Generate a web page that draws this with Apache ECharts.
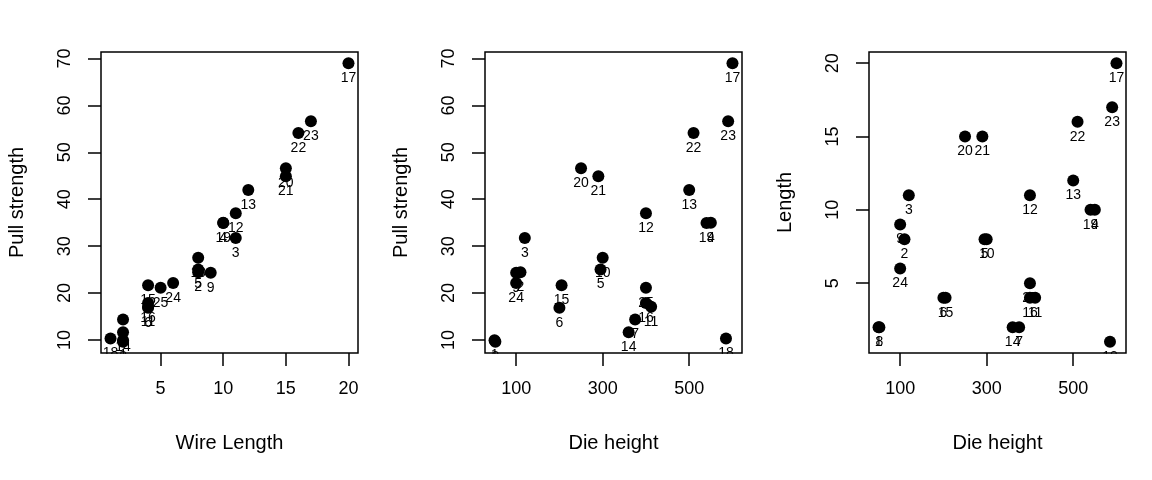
<!DOCTYPE html>
<html><head><meta charset="utf-8">
<script src="https://cdn.jsdelivr.net/npm/echarts@6/dist/echarts.min.js"></script>
<style>html,body{margin:0;padding:0;background:#fff}#c{width:1152px;height:480px}</style>
</head><body><div id="c"></div>
<script>
const obs = ['1','2','3','4','5','6','7','8','9','10','11','12','13','14','15','16','17','18','19','20','21','22','23','24','25'];
const pullStrength = [9.95,24.45,31.75,35.00,25.02,16.86,14.38,9.60,24.35,27.50,17.08,37.00,41.95,11.66,21.65,17.89,69.00,10.30,34.93,46.59,44.88,54.12,56.63,22.13,21.15];
const wireLength = [2,8,11,10,8,4,2,2,9,8,4,11,12,2,4,4,20,1,10,15,15,16,17,6,5];
const dieHeight = [50,110,120,550,295,200,375,52,100,300,412,400,500,360,205,400,600,585,540,250,290,510,590,100,400];
const xTicks1 = [5,10,15,20];
const xTicks2 = [100,300,500];
const yTicks12 = [10,20,30,40,50,60,70];
const yTicks3 = [5,10,15,20];

function ext(arr){const lo=Math.min(...arr),hi=Math.max(...arr),d=(hi-lo)*0.04;return [lo-d,hi+d];}
const FONT='Liberation Sans, Arial, sans-serif';
const panels = [
  {x:wireLength,y:pullStrength,xt:xTicks1,yt:yTicks12,xn:'Wire Length',yn:'Pull strength'},
  {x:dieHeight,y:pullStrength,xt:xTicks2,yt:yTicks12,xn:'Die height',yn:'Pull strength'},
  {x:dieHeight,y:wireLength,xt:xTicks2,yt:yTicks3,xn:'Die height',yn:'Length'}
];
const GL=101,GT=52,GW=257,GH=301,STEP=384;
const grid=[],xAxis=[],yAxis=[],series=[],graphic=[];
panels.forEach((p,i)=>{
  const left=GL+STEP*i;
  grid.push({left:left,top:GT,width:GW,height:GH,show:true,borderColor:'#000',borderWidth:1.5,backgroundColor:'transparent',z:10});
  const xr=ext(p.x), yr=ext(p.y);
  const tick={show:true,inside:false,length:13,lineStyle:{color:'#000',width:1.5}};
  const nts={color:'#000',fontSize:20,fontFamily:FONT};
  xAxis.push({type:'value',gridIndex:i,min:xr[0],max:xr[1],z:10,
    axisLine:{show:false},splitLine:{show:false},
    axisTick:Object.assign({customValues:p.xt},tick),
    axisLabel:{customValues:p.xt,color:'#000',fontSize:18,fontFamily:FONT,margin:27},
    name:p.xn,nameLocation:'middle',nameGap:80,nameTextStyle:nts});
  yAxis.push({type:'value',gridIndex:i,min:yr[0],max:yr[1],z:10,
    axisLine:{show:false},splitLine:{show:false},
    axisTick:Object.assign({customValues:p.yt},tick),
    axisLabel:{customValues:p.yt,color:'#000',fontSize:18,fontFamily:FONT,rotate:90,margin:27},
    name:p.yn,nameLocation:'middle',nameGap:74,nameRotate:90,nameTextStyle:nts});
  series.push({type:'scatter',xAxisIndex:i,yAxisIndex:i,symbol:'circle',symbolSize:12,z:2,
    itemStyle:{color:'#000',opacity:1},
    data:p.x.map((v,k)=>[v,p.y[k],obs[k]]),
    label:{show:true,position:'bottom',distance:2,color:'#000',opacity:1,fontSize:14,fontFamily:FONT,formatter:d=>d.value[2]},
    emphasis:{disabled:true},clip:false});
  // white mask below the plot box: R clips text to the plot region
  graphic.push({type:'rect',z:5,silent:true,shape:{x:left-1,y:GT+GH+0.8,width:GW+2,height:20},style:{fill:'#fff'}});
});
const chart=echarts.init(document.getElementById('c'),null,{renderer:'canvas'});
chart.setOption({animation:false,backgroundColor:'#fff',grid,xAxis,yAxis,series,graphic});
</script></body></html>
